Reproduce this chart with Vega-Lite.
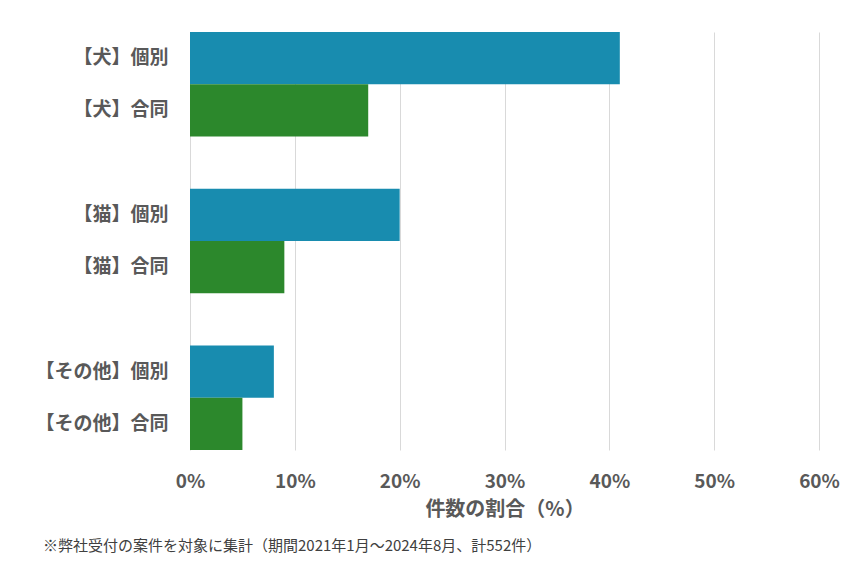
{
  "$schema": "https://vega.github.io/schema/vega-lite/v6.json",
  "width": 629,
  "height": 418,
  "autosize": {"type": "none"},
  "padding": {"left": 190, "top": 32, "right": 30, "bottom": 120},
  "background": "white",
  "config": {
    "font": "Noto Sans CJK JP",
    "view": {"stroke": null}
  },
  "data": {
    "values": [
      {"label": "【犬】個別", "type": "個別", "value": 0.41},
      {"label": "【犬】合同", "type": "合同", "value": 0.17},
      {"label": "【猫】個別", "type": "個別", "value": 0.20},
      {"label": "【猫】合同", "type": "合同", "value": 0.09},
      {"label": "【その他】個別", "type": "個別", "value": 0.08},
      {"label": "【その他】合同", "type": "合同", "value": 0.05}
    ]
  },
  "title": {
    "text": "※弊社受付の案件を対象に集計（期間2021年1月～2024年8月、計552件）",
    "orient": "bottom",
    "anchor": "start",
    "frame": "group",
    "dx": -147,
    "offset": 20,
    "fontSize": 15,
    "fontWeight": "normal",
    "color": "#404040",
    "font": "Noto Sans CJK JP"
  },
  "mark": {"type": "bar"},
  "encoding": {
    "y": {
      "field": "label",
      "type": "nominal",
      "sort": null,
      "scale": {
        "domain": ["【犬】個別", "【犬】合同", " ", "【猫】個別", "【猫】合同", "  ", "【その他】個別", "【その他】合同"],
        "paddingInner": 0,
        "paddingOuter": 0
      },
      "axis": {
        "title": null,
        "domain": false,
        "ticks": false,
        "labelPadding": 22,
        "labelFontSize": 19,
        "labelFontWeight": "bold",
        "labelColor": "#595959",
        "labelFont": "Noto Sans CJK JP"
      }
    },
    "x": {
      "field": "value",
      "type": "quantitative",
      "scale": {"domain": [0, 0.6], "nice": false},
      "axis": {
        "title": "件数の割合（%）",
        "values": [0, 0.1, 0.2, 0.3, 0.4, 0.5, 0.6],
        "format": ".0%",
        "domain": false,
        "ticks": false,
        "grid": true,
        "gridColor": "#D9D9D9",
        "gridWidth": 1,
        "labelFlush": false,
        "labelOverlap": false,
        "labelPadding": 22,
        "labelFontSize": 19,
        "labelFontWeight": "bold",
        "labelColor": "#595959",
        "labelFont": "Noto Sans CJK JP",
        "titleFontSize": 20,
        "titleFontWeight": "bold",
        "titleColor": "#595959",
        "titleFont": "Noto Sans CJK JP",
        "titlePadding": 8
      }
    },
    "color": {
      "field": "type",
      "type": "nominal",
      "scale": {"domain": ["個別", "合同"], "range": ["#188CAF", "#2C882C"]},
      "legend": null
    }
  }
}
